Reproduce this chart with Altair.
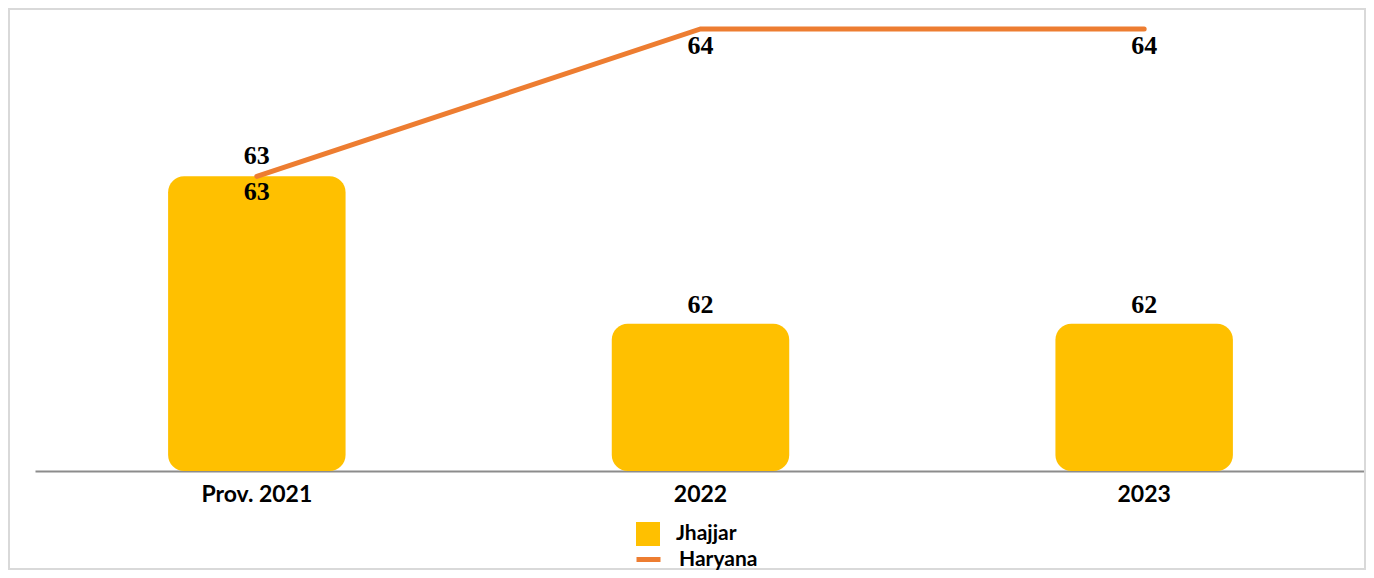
import altair as alt
import pandas as pd

categories = ["Prov. 2021", "2022", "2023"]
jhajjar = [63, 62, 62]
haryana = [63, 64, 64]

df = pd.DataFrame({"year": categories, "Jhajjar": jhajjar, "Haryana": haryana})

W, H = 1331, 442
xenc = alt.X("year:N", sort=categories, title=None,
             scale=alt.Scale(paddingInner=0.6, paddingOuter=0.3),
             axis=alt.Axis(labelAngle=0, ticks=False, domainColor="#8c8c8c", domainWidth=2,
                           labelFont="Lato", labelFontWeight="bold", labelFontSize=23,
                           labelColor="#000000", labelPadding=12))
yscale = alt.Scale(domain=[61, 64], zero=False, nice=False)
yenc_j = alt.Y("Jhajjar:Q", scale=yscale, axis=None)
yenc_h = alt.Y("Haryana:Q", scale=yscale, axis=None)

base = alt.Chart(df)

legend_common = dict(title=None, orient="none", labelFont="Lato",
                     labelFontWeight="bold", labelFontSize=21, labelColor="#000000",
                     labelOffset=16, padding=0)

bars = base.mark_bar(cornerRadius=16, clip=False).encode(
    x=xenc, y=yenc_j, y2=alt.datum(61),
    fill=alt.Fill("s:N", scale=alt.Scale(domain=["Jhajjar"], range=["#FFC000"]),
                  legend=alt.Legend(legendX=601, legendY=493, symbolType="square", symbolSize=576,
                                    symbolStrokeWidth=0, **legend_common))
).transform_calculate(s="'Jhajjar'")

line = base.mark_line(strokeWidth=5, strokeCap="round").encode(
    x=xenc, y=yenc_h,
    stroke=alt.Stroke("s:N", scale=alt.Scale(domain=["Haryana"], range=["#ED7D31"]),
                      legend=alt.Legend(legendX=599, legendY=516, symbolType="stroke", symbolSize=576,
                                        symbolStrokeWidth=5, **legend_common))
).transform_calculate(s="'Haryana'")

tstyle = dict(font="Liberation Serif", fontWeight="bold", fontSize=26, color="#000000")

bar_lab_in = base.mark_text(dy=16, **tstyle).encode(
    x=xenc, y=yenc_j, text="Jhajjar:Q").transform_filter(alt.datum.year == "Prov. 2021")
bar_lab_out = base.mark_text(dy=-19, **tstyle).encode(
    x=xenc, y=yenc_j, text="Jhajjar:Q").transform_filter(alt.datum.year != "Prov. 2021")
line_lab_up = base.mark_text(dy=-20, **tstyle).encode(
    x=xenc, y=yenc_h, text="Haryana:Q").transform_filter(alt.datum.year == "Prov. 2021")
line_lab_dn = base.mark_text(dy=17, **tstyle).encode(
    x=xenc, y=yenc_h, text="Haryana:Q").transform_filter(alt.datum.year != "Prov. 2021")

border = alt.Chart(pd.DataFrame({"a": [0]})).mark_rect(
    fill=None, stroke="#d9d9d9", strokeWidth=2).encode(
    x=alt.value(-26), x2=alt.value(W - 1), y=alt.value(-20), y2=alt.value(H + 98))

chart = alt.layer(border, bars, line, bar_lab_in, bar_lab_out, line_lab_up, line_lab_dn).resolve_scale(
    fill="independent", stroke="independent"
).properties(
    width=W, height=H,
    autosize=alt.AutoSizeParams(type="none"),
    padding={"left": 27, "top": 21, "right": 0, "bottom": 99},
).configure_view(stroke=None)

chart.save("out.html", embed_options={"renderer": "svg", "actions": False})
